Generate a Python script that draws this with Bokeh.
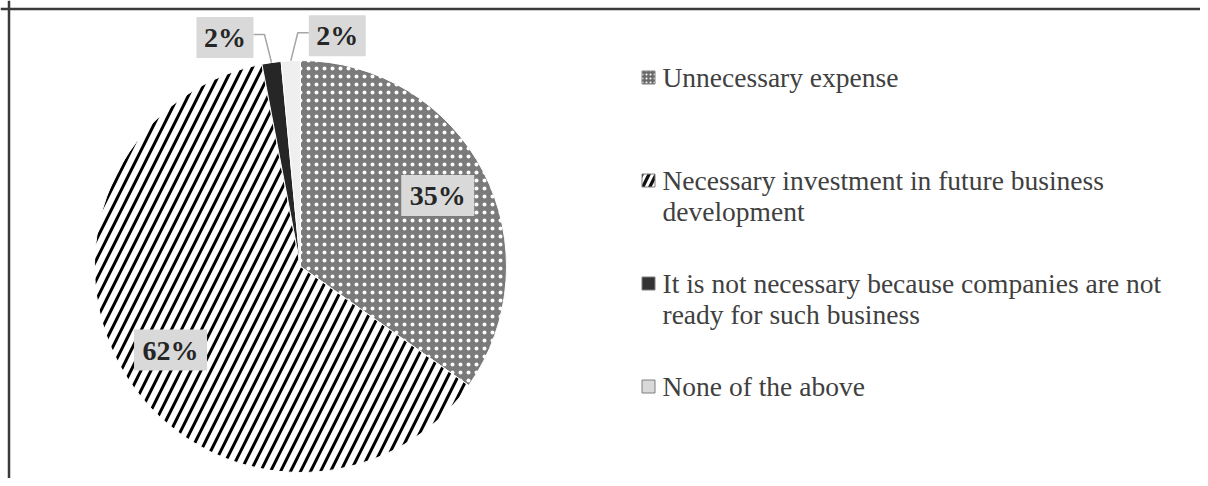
import math
from bokeh.plotting import figure
from bokeh.models import Range1d, Span
from bokeh.core.properties import value
from bokeh.embed import file_html
from bokeh.resources import INLINE

# ---- data ----
categories = [
    "Unnecessary expense",
    "Necessary investment in future business\ndevelopment",
    "It is not necessary because companies are not\nready for such business",
    "None of the above",
]
shares = [34.8, 62.2, 1.5, 1.5]
labels = ["35%", "62%", "2%", "2%"]

# ---- layout (page pixel coords -> data coords) ----
W, H = 1200, 478
def px(x): return x
def py(y): return H - y

p = figure(width=W, height=H, output_backend="svg", toolbar_location=None,
           x_range=Range1d(0, W), y_range=Range1d(0, H), min_border=0)
p.axis.visible = False
p.grid.visible = False
p.outline_line_color = None
p.background_fill_color = "white"
p.border_fill_color = "white"

# border (top & left visible)
p.add_layout(Span(location=px(8.5), dimension="height", line_color="#3a3a3a", line_width=2.5))
p.add_layout(Span(location=py(8.5), dimension="width", line_color="#3a3a3a", line_width=2.5))

cx, cy, R = px(300), py(266), 206
total = sum(shares)
styles = [
    dict(fill_color="#7a7a7a", hatch_pattern="dot", hatch_color="white", hatch_scale=8, hatch_weight=1),
    dict(fill_color="white", hatch_pattern="right_diagonal_line", hatch_color="black", hatch_scale=20, hatch_weight=3),
    dict(fill_color="#262626"),
    dict(fill_color="#efefef"),
]

cum = 0.0
mids = []
for i, s in enumerate(shares):
    f0 = cum / total
    cum += s
    f1 = cum / total
    start = math.pi / 2 - 2 * math.pi * f1
    end = math.pi / 2 - 2 * math.pi * f0
    p.wedge(x=[cx], y=[cy], radius=R, start_angle=start, end_angle=end,
            line_color="white", line_width=1, **styles[i])
    mids.append((f0 + f1) / 2 * 2 * math.pi)  # clockwise from top

# ---- data labels ----
box_col = "#d9d9d9"
font = value("Liberation Serif")
for i, lab in enumerate(labels):
    a = mids[i]
    bw = 25 + 16 * len(lab)
    if shares[i] > 10:
        lx = cx + 0.75 * R * math.sin(a)
        ly = cy + 0.75 * R * math.cos(a)
    else:
        ax = cx + R * math.sin(a)
        ay = cy + R * math.cos(a)
        side = -1 if i == 2 else 1
        ex, ey = ax + side * 7, ay + 28
        hx = ex + side * 11
        p.line(x=[ax, ex, hx], y=[ay, ey, ey], line_color="#a6a6a6", line_width=1.5)
        lx = hx + side * (bw / 2)
        ly = ey - 3
    p.rect(x=[lx], y=[ly], width=bw, height=41, width_units="screen",
           height_units="screen", fill_color=box_col, line_color=None)
    p.text(x=[lx], y=[ly], text=[lab], text_font=font, text_font_size="28px",
           text_font_style="bold", text_color="#262626", text_align="center",
           text_baseline="middle")

# ---- legend ----
leg_x = px(648)
txt_x = px(662)
top, step, lh = 77, 103, 31
leg_styles = [
    dict(fill_color="#6a6a6a", hatch_pattern="dot", hatch_color="white", hatch_scale=4, hatch_weight=1),
    dict(fill_color="#111111", hatch_pattern="right_diagonal_line", hatch_color="white", hatch_scale=14, hatch_weight=3),
    dict(fill_color="#333333"),
    dict(fill_color="#d9d9d9"),
]
for i, cat in enumerate(categories):
    y0 = top + step * i
    p.rect(x=[leg_x], y=[py(y0)], width=13, height=13, width_units="screen",
           height_units="screen", line_color="#7f7f7f", line_width=1, **leg_styles[i])
    for j, line in enumerate(cat.split("\n")):
        p.text(x=[txt_x], y=[py(y0 + j * lh)], text=[line], text_font=font,
               text_font_size="27.5px", text_color="#404040", text_align="left",
               text_baseline="middle")

open("out.html", "w").write(file_html(p, INLINE))
